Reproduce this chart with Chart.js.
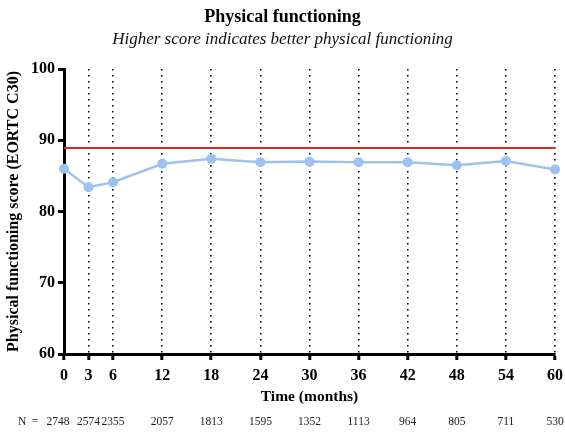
<!DOCTYPE html>
<html>
<head>
<meta charset="utf-8">
<script src="https://cdn.jsdelivr.net/npm/chart.js@4/dist/chart.umd.min.js"></script>
<style>
html,body{margin:0;padding:0;background:#fff;}
#wrap{width:565px;height:436px;position:relative;}
</style>
</head>
<body>
<div id="wrap"><canvas id="c"></canvas></div>
<script>
const months = [0, 3, 6, 12, 18, 24, 30, 36, 42, 48, 54, 60];
const scores = [86.0, 83.4, 84.1, 86.7, 87.4, 86.9, 87.0, 86.9, 86.9, 86.5, 87.1, 85.9];
const nAtRisk = [2748, 2574, 2355, 2057, 1813, 1595, 1352, 1113, 964, 805, 711, 530];
const referenceValue = 88.9;
const yTicks = [60, 70, 80, 90, 100];

const serif = "'Liberation Serif', 'Times New Roman', serif";

const nRowPlugin = {
  id: 'nRow',
  afterDraw(chart) {
    const ctx = chart.ctx;
    const xs = chart.scales.x;
    ctx.save();
    ctx.font = "11.5px " + serif;
    ctx.fillStyle = '#222';
    ctx.textBaseline = 'middle';
    ctx.textAlign = 'center';
    const yRow = 422;
    nAtRisk.forEach((n, i) => {
      let px = xs.getPixelForValue(months[i]);
      if (i === 0) px -= 6;
      ctx.fillText(String(n), px, yRow);
    });
    ctx.textAlign = 'left';
    ctx.fillText('N', 18, yRow);
    ctx.textAlign = 'center';
    ctx.fillText('=', 35, yRow);
    ctx.restore();
  }
};

new Chart(document.getElementById('c'), {
  type: 'line',
  data: {
    datasets: [
      {
        label: 'Physical functioning',
        data: months.map((m, i) => ({x: m, y: scores[i]})),
        borderColor: '#9cc3f0',
        backgroundColor: '#9cc3f0',
        borderWidth: 2.5,
        pointRadius: 5,
        pointHoverRadius: 5,
        pointBorderWidth: 0,
        clip: false,
        order: 1
      },
      {
        label: 'Reference',
        data: [{x: months[0], y: referenceValue}, {x: months[months.length - 1], y: referenceValue}],
        borderColor: '#e2261f',
        borderWidth: 2,
        pointRadius: 0,
        clip: false,
        order: 2
      }
    ]
  },
  options: {
    responsive: true,
    maintainAspectRatio: false,
    animation: false,
    events: [],
    layout: {padding: {left: 0, right: 0, top: 0, bottom: 0}},
    plugins: {
      legend: {display: false},
      tooltip: {enabled: false},
      title: {
        display: true,
        text: 'Physical functioning',
        color: '#000',
        font: {family: serif, size: 18, weight: 'bold'},
        padding: {top: 7, bottom: 1}
      },
      subtitle: {
        display: true,
        text: 'Higher score indicates better physical functioning',
        color: '#111',
        font: {family: serif, size: 17, style: 'italic'},
        padding: {top: 0, bottom: 19}
      }
    },
    scales: {
      x: {
        type: 'linear',
        min: 0,
        max: 60,
        afterBuildTicks(axis) {
          axis.ticks = months.map(v => ({value: v}));
        },
        afterFit(axis) { axis.height = 82; axis.paddingRight = 10; axis.paddingLeft = 0; },
        ticks: {
          autoSkip: false,
          maxRotation: 0,
          color: '#000',
          padding: 6,
          font: {family: serif, size: 16, weight: 'bold'},
          callback: v => String(v)
        },
        grid: {
          display: true,
          drawOnChartArea: true,
          drawTicks: true,
          color: ctx => (ctx.tick && ctx.tick.value === 0) ? 'rgba(0,0,0,0)' : '#000',
          lineWidth: 1.6,
          tickLength: 6,
          tickWidth: 3,
          tickColor: '#000'
        },
        border: {display: true, color: '#000', width: 3, dash: [1.6, 4.4]},
        title: {
          display: true,
          text: 'Time (months)',
          color: '#000',
          font: {family: serif, size: 15.5, weight: 'bold'},
          padding: {top: 0, bottom: 30}
        }
      },
      y: {
        type: 'linear',
        min: 60,
        max: 100,
        afterBuildTicks(axis) {
          axis.ticks = yTicks.map(v => ({value: v}));
        },
        afterFit(axis) { axis.width = 64; },
        ticks: {
          color: '#000',
          padding: 3,
          font: {family: serif, size: 16, weight: 'bold'}
        },
        grid: {
          display: true,
          drawOnChartArea: false,
          drawTicks: true,
          tickLength: 6,
          tickWidth: 3,
          tickColor: '#000'
        },
        border: {display: true, color: '#000', width: 3},
        title: {
          display: true,
          text: 'Physical functioning score (EORTC C30)',
          color: '#000',
          font: {family: serif, size: 16, weight: 'bold'},
          padding: {top: 4, bottom: 0}
        }
      }
    }
  },
  plugins: [nRowPlugin]
});
</script>
</body>
</html>
